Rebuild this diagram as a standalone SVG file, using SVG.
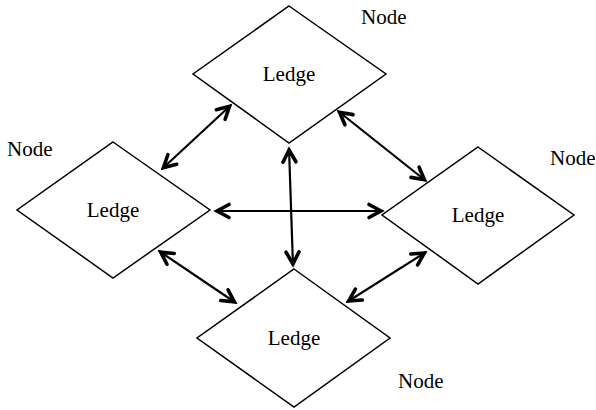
<svg xmlns="http://www.w3.org/2000/svg" width="596" height="410" viewBox="0 0 596 410">
  <style>
    .shape { fill: #ffffff; stroke: #000000; stroke-width: 1.5; stroke-linejoin: miter; }
    .label { font-family: "Liberation Serif", "Times New Roman", serif; font-size: 21px; fill: #000000; }
    .mid { text-anchor: middle; }
    .link { stroke: #000000; stroke-width: 2.2; fill: none; marker-start: url(#head); marker-end: url(#head); }
  </style>
  <defs>
    <!-- open chevron arrowhead, used at both ends of every link -->
    <marker id="head" markerUnits="userSpaceOnUse" markerWidth="24" markerHeight="20" viewBox="-16 -10 24 20" refX="2" refY="0" orient="auto-start-reverse" overflow="visible">
      <path d="M-12,-6.5 L0,0 L-12,6.5" fill="none" stroke="#000000" stroke-width="3.6" stroke-linecap="round" stroke-linejoin="miter"/>
    </marker>
  </defs>
  <rect width="596" height="410" fill="#ffffff"/>

  <g id="node-top">
    <polygon class="shape" points="289,6 386,74 289,143 193,74"/>
    <text class="label mid" x="289" y="81">Ledge</text>
    <text class="label" x="361" y="24">Node</text>
  </g>

  <g id="node-left">
    <polygon class="shape" points="113,142 210,210 113,278 17,210"/>
    <text class="label mid" x="113" y="217">Ledge</text>
    <text class="label" x="7" y="156">Node</text>
  </g>

  <g id="node-right">
    <polygon class="shape" points="478,147 574,215 478,284 382,215"/>
    <text class="label mid" x="478" y="222">Ledge</text>
    <text class="label" x="550" y="165">Node</text>
  </g>

  <g id="node-bottom">
    <polygon class="shape" points="294,269 390,338 294,407 197,338"/>
    <text class="label mid" x="294" y="345">Ledge</text>
    <text class="label" x="398" y="388">Node</text>
  </g>

  <g id="connectors">
    <line class="link" x1="162" y1="169" x2="231" y2="105"/>
    <line class="link" x1="338" y1="111" x2="426" y2="181"/>
    <line class="link" x1="215" y1="211" x2="383" y2="211"/>
    <line class="link" x1="289" y1="148" x2="293" y2="266"/>
    <line class="link" x1="159" y1="251" x2="236" y2="303"/>
    <line class="link" x1="347" y1="302" x2="426" y2="252"/>
  </g>
</svg>
